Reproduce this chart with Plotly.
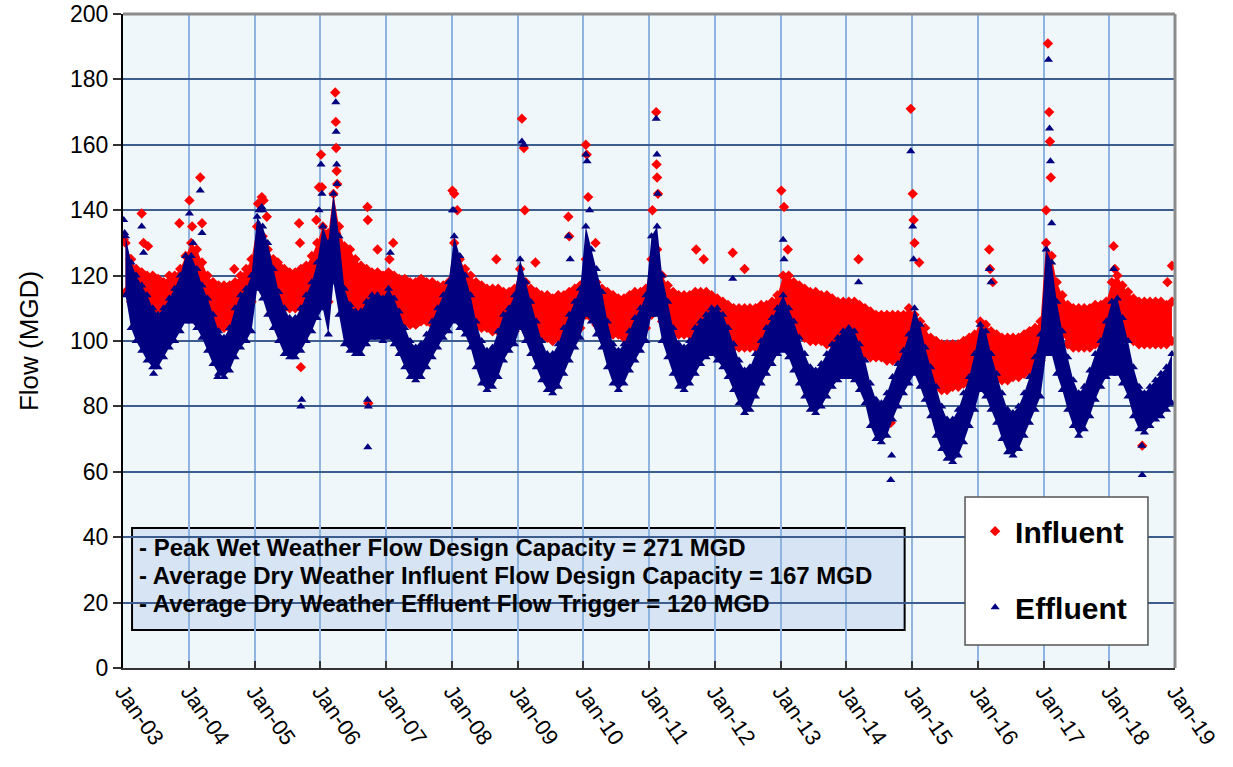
import pandas as pd
import plotly.graph_objects as go

# ---------------- data ----------------
START_MONTH = "2003-01-01"
N_MONTHS = 192  # Jan-2003 .. Dec-2018

# Influent daily-flow band, monthly upper / lower edge (MGD)
INF_HI = [
    130, 125, 122, 121, 120, 120, 119, 118, 120, 120, 122, 126,  # 2003
    130, 128, 124, 120, 118, 117, 117, 117, 118, 120, 122, 125,  # 2004
    135, 132, 128, 125, 123, 122, 121, 121, 122, 123, 126, 130,  # 2005
    135, 133, 145, 135, 129, 128, 125, 123, 122, 121, 121, 120,  # 2006
    121, 120, 119, 119, 118, 118, 119, 118, 118, 117, 117, 118,  # 2007
    130, 125, 122, 120, 118, 117, 116, 116, 116, 115, 115, 116,  # 2008
    122, 118, 116, 115, 114, 114, 113, 114, 114, 115, 116, 117,  # 2009
    125, 122, 118, 116, 115, 114, 113, 113, 114, 115, 115, 116,  # 2010
    125, 128, 120, 117, 115, 114, 114, 114, 115, 115, 115, 114,  # 2011
    113, 112, 111, 110, 110, 110, 110, 110, 111, 111, 112, 114,  # 2012
    120, 120, 118, 117, 116, 115, 115, 114, 114, 113, 112, 112,  # 2013
    112, 112, 111, 110, 109, 108, 108, 108, 108, 108, 108, 110,  # 2014
    108, 106, 104, 101, 100, 99, 99, 99, 99, 100, 101, 102,      # 2015
    106, 105, 103, 102, 101, 101, 101, 101, 102, 103, 104, 106,  # 2016
    130, 126, 118, 114, 111, 110, 110, 110, 110, 111, 111, 112,  # 2017
    118, 120, 117, 115, 113, 112, 112, 112, 112, 112, 111, 112,  # 2018
]
INF_LO = [
    115, 112, 110, 108, 107, 106, 106, 107, 108, 108, 110, 112,  # 2003
    113, 112, 110, 108, 106, 104, 104, 104, 106, 108, 110, 112,  # 2004
    118, 116, 114, 112, 111, 110, 110, 110, 110, 111, 113, 115,  # 2005
    115, 112, 120, 118, 112, 111, 110, 110, 110, 109, 108, 108,  # 2006
    107, 106, 106, 106, 105, 105, 106, 106, 105, 105, 105, 106,  # 2007
    110, 110, 108, 107, 105, 104, 104, 103, 103, 103, 102, 103,  # 2008
    105, 104, 103, 102, 101, 101, 100, 101, 102, 102, 103, 104,  # 2009
    108, 107, 105, 104, 103, 102, 102, 101, 102, 102, 103, 104,  # 2010
    108, 110, 106, 104, 103, 102, 102, 102, 103, 103, 102, 102,  # 2011
    100, 100, 99, 98, 98, 98, 98, 98, 99, 99, 100, 101,          # 2012
    103, 104, 103, 102, 101, 100, 100, 100, 99, 99, 98, 98,      # 2013
    97, 97, 96, 96, 95, 95, 95, 94, 94, 94, 94, 95,              # 2014
    93, 92, 90, 88, 86, 85, 85, 86, 86, 87, 88, 89,              # 2015
    93, 92, 90, 89, 88, 88, 89, 89, 90, 91, 92, 94,              # 2016
    107, 108, 104, 102, 99, 98, 98, 98, 98, 99, 99, 100,         # 2017
    103, 104, 102, 101, 100, 99, 99, 99, 99, 99, 99, 100,        # 2018
]

# Effluent daily-flow band, monthly upper / lower edge (MGD)
EFF_HI = [
    132, 124, 120, 117, 114, 110, 108, 110, 113, 116, 120, 126,  # 2003
    126, 122, 117, 113, 108, 103, 101, 104, 110, 114, 116, 120,  # 2004
    138, 135, 130, 122, 115, 110, 107, 107, 110, 114, 118, 124,  # 2005
    135, 130, 145, 132, 116, 111, 109, 109, 112, 114, 114, 113,  # 2006
    116, 113, 109, 104, 100, 98, 99, 102, 106, 110, 114, 118,    # 2007
    132, 126, 120, 114, 106, 100, 97, 98, 103, 108, 110, 114,    # 2008
    125, 118, 112, 106, 100, 96, 96, 99, 104, 108, 112, 116,     # 2009
    135, 128, 122, 115, 106, 99, 97, 99, 103, 107, 110, 114,     # 2010
    132, 135, 120, 112, 104, 99, 98, 100, 104, 106, 108, 110,    # 2011
    110, 108, 104, 99, 94, 91, 92, 96, 100, 104, 107, 110,       # 2012
    114, 110, 106, 101, 96, 92, 91, 93, 96, 99, 101, 103,        # 2013
    104, 103, 99, 94, 87, 82, 81, 84, 89, 93, 97, 102,           # 2014
    110, 105, 98, 92, 86, 80, 76, 76, 79, 84, 89, 96,            # 2015
    105, 103, 96, 90, 84, 79, 78, 80, 84, 89, 95, 102,           # 2016
    128, 124, 112, 103, 95, 88, 84, 86, 91, 96, 100, 106,        # 2017
    112, 113, 107, 100, 92, 86, 84, 86, 88, 90, 92, 96,          # 2018
]
EFF_LO = [
    114, 104, 100, 97, 94, 92, 92, 95, 98, 100, 103, 106,        # 2003
    106, 104, 101, 97, 93, 90, 89, 91, 95, 98, 100, 103,         # 2004
    116, 113, 108, 104, 100, 96, 95, 95, 97, 100, 103, 107,      # 2005
    110, 102, 118, 108, 99, 97, 96, 96, 99, 101, 101, 100,       # 2006
    101, 99, 96, 92, 89, 88, 89, 92, 95, 98, 101, 103,           # 2007
    106, 104, 102, 98, 92, 87, 85, 86, 89, 94, 97, 99,           # 2008
    104, 100, 96, 92, 88, 85, 84, 86, 90, 94, 98, 101,           # 2009
    108, 106, 102, 98, 92, 87, 85, 87, 91, 94, 97, 100,          # 2010
    108, 108, 100, 95, 90, 86, 85, 87, 90, 93, 95, 96,           # 2011
    94, 92, 89, 85, 81, 78, 79, 83, 87, 90, 93, 96,              # 2012
    97, 95, 91, 87, 83, 79, 78, 80, 83, 86, 88, 89,              # 2013
    89, 88, 85, 81, 74, 70, 69, 71, 76, 80, 84, 87,              # 2014
    90, 86, 82, 77, 71, 67, 64, 63, 65, 69, 74, 79,              # 2015
    85, 83, 79, 75, 70, 66, 65, 67, 71, 75, 79, 83,              # 2016
    96, 96, 90, 85, 79, 74, 71, 73, 77, 82, 86, 89,              # 2017
    90, 90, 87, 83, 77, 73, 72, 74, 76, 77, 79, 81,              # 2018
]

# Isolated peaks / outliers
INF_SPIKE_DATES = [
    "2003-01-05", "2003-02-10", "2003-04-15", "2003-04-25", "2003-05-20", "2003-11-10",
    "2004-01-05", "2004-01-20", "2004-03-05", "2004-03-15", "2004-09-10",
    "2005-01-20", "2005-02-10", "2005-02-20", "2005-03-10", "2005-05-10",
    "2005-09-05", "2005-09-10", "2005-09-15", "2005-12-10", "2005-12-25",
    "2006-01-05", "2006-01-10", "2006-03-25", "2006-03-28", "2006-03-30", "2006-04-02", "2006-04-05",
    "2006-09-20", "2006-09-22", "2006-09-25", "2006-11-15",
    "2007-01-20", "2007-02-10",
    "2008-01-05", "2008-01-15", "2008-02-01", "2008-09-05",
    "2009-01-25", "2009-02-05", "2009-02-10", "2009-04-10", "2009-10-10", "2009-10-15",
    "2010-01-15", "2010-01-20", "2010-01-28", "2010-03-10",
    "2011-01-20", "2011-02-10", "2011-02-12", "2011-02-15", "2011-02-20", "2011-09-20", "2011-11-01",
    "2012-04-10", "2012-06-15",
    "2013-01-05", "2013-01-20", "2013-02-10",
    "2014-03-10", "2014-09-05",
    "2014-12-25", "2015-01-05", "2015-01-10", "2015-01-15", "2015-02-10",
    "2016-03-05", "2016-03-10", "2016-03-25",
    "2017-01-15", "2017-01-25", "2017-02-01", "2017-02-05", "2017-02-10",
    "2018-01-25", "2018-02-01", "2018-07-01", "2018-07-03", "2018-11-20", "2018-12-15",
]
INF_SPIKE_VALUES = [
    131, 125, 139, 130, 129, 136,
    143, 135, 150, 136, 122,
    142, 144, 143, 138, 124,
    136, 130, 92, 137, 147,
    157, 147, 176, 167, 159, 152, 148,
    141, 137, 81, 128,
    125, 130,
    146, 145, 140, 125,
    168, 159, 140, 124, 138, 132,
    160, 157, 144, 130,
    140, 170, 154, 150, 145, 128, 125,
    127, 122,
    146, 141, 128,
    125, 75,
    171, 145, 137, 130, 124,
    128, 122, 118,
    140, 191, 170, 161, 150,
    129, 122, 80, 68, 118, 123,
]
EFF_SPIKE_DATES = [
    "2003-01-05", "2003-01-10", "2003-04-15", "2003-04-25", "2003-06-20",
    "2004-01-05", "2004-01-25", "2004-03-05", "2004-03-15", "2004-06-10",
    "2005-01-25", "2005-02-10", "2005-02-15", "2005-09-15", "2005-09-20", "2005-12-25",
    "2006-01-05", "2006-01-10", "2006-03-28", "2006-03-30", "2006-04-02", "2006-04-04",
    "2006-09-20", "2006-09-22", "2006-09-25",
    "2007-01-25",
    "2008-01-05", "2008-01-12",
    "2009-01-25", "2009-02-05", "2009-10-10", "2009-10-20",
    "2010-01-15", "2010-01-22", "2010-02-05",
    "2011-02-10", "2011-02-14", "2011-02-18",
    "2012-04-10",
    "2013-01-15", "2013-01-20",
    "2014-03-10", "2014-09-05", "2014-09-10",
    "2014-12-25", "2015-01-05", "2015-01-10",
    "2016-03-05", "2016-03-15",
    "2017-01-28", "2017-02-03", "2017-02-08", "2017-02-15",
    "2018-01-25", "2018-07-01", "2018-07-03",
]
EFF_SPIKE_VALUES = [
    137, 133, 135, 127, 90,
    139, 130, 146, 133, 89,
    140, 141, 140, 80, 82, 140,
    154, 145, 173, 164, 154, 148,
    82, 67.5, 80,
    127,
    140, 140,
    161, 160, 132, 125,
    157, 155, 140,
    168, 157, 145,
    119,
    131, 125,
    118, 57.5, 65,
    158, 135, 125,
    122, 118,
    186, 165, 155, 136,
    122, 68, 59,
]

X_TICK_START = "2003-01-01"
X_RANGE = ["2003-01-01", "2019-01-01"]
Y_RANGE = [0, 200]
NOTE_LINES = [
    "- Peak Wet Weather Flow Design Capacity = 271 MGD",
    "- Average Dry Weather Influent Flow Design Capacity = 167 MGD",
    "- Average Dry Weather Effluent Flow Trigger = 120 MGD",
]

# ---------------- figure ----------------
months = (pd.date_range(START_MONTH, periods=N_MONTHS, freq="MS")
          + pd.Timedelta(days=14)).strftime("%Y-%m-%d").tolist()

RED = "#ff0000"
NAVY = "#000080"
FONT = "Arial, Liberation Sans, sans-serif"

fig = go.Figure()

def band(hi, lo, color):
    fig.add_trace(go.Scatter(x=months, y=lo, mode="lines", line=dict(width=0, color=color),
                             showlegend=False, hoverinfo="skip"))
    fig.add_trace(go.Scatter(x=months, y=hi, mode="lines", line=dict(width=0, color=color),
                             fill="tonexty", fillcolor=color, showlegend=False, hoverinfo="skip"))

band(INF_HI, INF_LO, RED)
fig.add_trace(go.Scatter(
    x=months + months + INF_SPIKE_DATES, y=INF_HI + INF_LO + INF_SPIKE_VALUES,
    mode="markers", name="Influent", legendgroup="inf",
    marker=dict(symbol="diamond", size=8, color=RED)))

band(EFF_HI, EFF_LO, NAVY)
fig.add_trace(go.Scatter(
    x=months + months + EFF_SPIKE_DATES, y=EFF_HI + EFF_LO + EFF_SPIKE_VALUES,
    mode="markers", name="Effluent", legendgroup="eff",
    marker=dict(symbol="triangle-up", size=8, color=NAVY)))

# note box
fig.add_shape(type="rect", xref="paper", yref="paper", x0=0.0086, x1=0.743, y0=0.058, y1=0.214,
              fillcolor="#d6e4f4", line=dict(color="#000000", width=2), layer="below")
for i, line in enumerate(NOTE_LINES):
    fig.add_annotation(xref="paper", yref="paper", x=0.0135, y=0.1835 - i * 0.0425,
                       xanchor="left", yanchor="middle", showarrow=False, text=line,
                       font=dict(family=FONT, size=24, color="#000000", weight="bold"))

# legend box
fig.add_shape(type="rect", xref="paper", yref="paper", x0=0.8004, x1=0.9743, y0=0.0352, y1=0.2615,
              fillcolor="#ffffff", line=dict(color="#555555", width=1.5), layer="above")

# top / right border
fig.add_shape(type="line", xref="paper", yref="paper", x0=0, x1=1, y0=1, y1=1,
              line=dict(color="#8c8c8c", width=3))
fig.add_shape(type="line", xref="paper", yref="paper", x0=1, x1=1, y0=0, y1=1,
              line=dict(color="#8c8c8c", width=3))

fig.update_layout(
    width=1233, height=767,
    margin=dict(l=123, r=58, t=14, b=99, autoexpand=False),
    paper_bgcolor="#ffffff", plot_bgcolor="#eff7fa",
    font=dict(family=FONT, color="#000000"),
    showlegend=True,
    legend=dict(x=0.81, y=0.249, xanchor="left", yanchor="top",
                bgcolor="rgba(0,0,0,0)", borderwidth=0,
                font=dict(family=FONT, size=30, color="#000000", weight="bold"),
                tracegroupgap=34),
    xaxis=dict(type="date", range=X_RANGE, tick0=X_TICK_START, dtick="M12",
               tickformat="%b-%y", tickangle=55, automargin=False,
               tickfont=dict(family=FONT, size=22, color="#000000"),
               showgrid=True, gridcolor="#8fb4e0", gridwidth=2,
               ticks="inside", ticklen=7, tickcolor="#333333", tickwidth=1.5,
               showline=True, linecolor="#333333", linewidth=2, zeroline=False),
    yaxis=dict(range=Y_RANGE, dtick=20, tick0=0, automargin=False,
               tickfont=dict(family=FONT, size=23, color="#000000"),
               showgrid=True, gridcolor="#3d5d8e", gridwidth=1.5,
               ticks="outside", ticklen=8, tickcolor="#333333", tickwidth=1.5,
               showline=True, linecolor="#000000", linewidth=2, zeroline=False,
               title=dict(text="Flow (MGD)", font=dict(family=FONT, size=26, color="#000000"),
                          standoff=24)),
)

fig.write_html("out.html", config={"displayModeBar": False},
               post_script="document.body.style.margin='0px';document.body.style.overflow='hidden';")
